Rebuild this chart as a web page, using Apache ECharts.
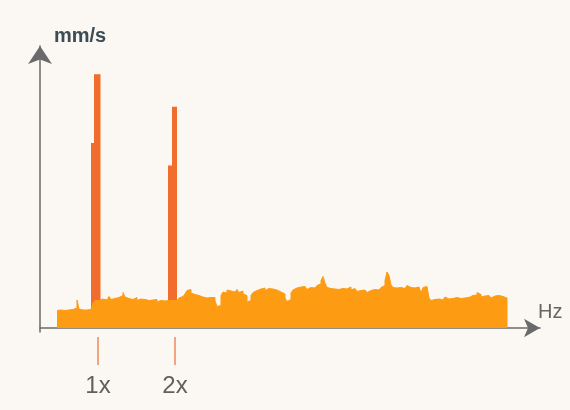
<!DOCTYPE html>
<html><head><meta charset="utf-8">
<script src="https://cdn.jsdelivr.net/npm/echarts@6/dist/echarts.min.js"></script>
<style>html,body{margin:0;padding:0;background:#fbf8f3}#c{width:570px;height:410px}</style>
</head><body><div id="c"></div>
<script>
const yAxisName = 'mm/s';
const xAxisName = 'Hz';
const harmonicFreqs = [29, 67.5];
const harmonicLabels = ['1x', '2x'];
// spectral peak lines: frequency (Hz) and amplitude (mm/s), step profile
const peakFreqs = [25.5, 27, 30.25, 64, 66, 68.5];
const peakAmps = [7.4, 10.15, 0, 6.5, 8.85, 0];
// broadband noise floor in 1 Hz bins starting at 8.5 Hz (mm/s)
const noiseStartHz = 8.5;
const noiseStepHz = 1;
const noiseAmps = [
  0.70,0.72,0.72,0.70,0.72,0.72,0.72,0.74,0.72,0.80,1.12,0.76,0.72,0.72,0.72,0.74,0.74,0.74,
  1.00,1.10,1.10,1.10,
  1.16,1.22,1.12,1.20,1.26,1.14,1.18,1.10,1.22,1.28,1.30,1.42,1.24,1.18,1.26,1.14,1.20,1.22,1.10,1.16,
  1.08,1.14,1.20,1.10,1.06,1.12,1.08,1.14,1.04,1.10,1.16,1.08,1.12,1.10,
  1.10,1.10,1.10,1.10,1.10,
  1.20,1.26,1.30,1.36,1.50,1.54,1.40,1.34,1.38,1.30,1.32,1.24,1.28,1.20,1.26,1.22,1.18,1.22,1.10,0.86,
  0.90,1.30,1.44,1.40,1.52,1.48,1.56,1.44,1.50,1.54,1.42,1.48,1.36,1.30,1.04,1.10,1.30,1.42,1.50,1.46,
  1.56,1.52,1.60,1.50,1.58,1.64,1.56,1.60,1.52,1.58,1.44,
  1.40,1.36,1.20,1.06,1.14,1.40,1.52,1.60,1.56,1.64,1.58,1.66,1.60,1.54,1.62,1.68,1.60,1.64,1.70,1.76,
  1.90,2.06,1.80,1.62,1.58,1.64,1.56,1.60,1.54,1.62,1.58,1.66,1.56,1.60,1.64,1.52,1.58,1.54,1.46,1.50,
  1.44,1.52,1.48,1.42,1.50,1.46,1.54,1.48,1.52,1.58,1.62,1.70,1.90,2.24,2.10,1.72,1.62,
  1.60,1.66,1.62,1.68,1.58,1.64,1.70,1.62,1.66,1.60,1.68,1.64,1.56,1.40,1.62,1.66,1.60,1.20,1.10,1.14,
  1.08,1.16,1.20,1.12,1.18,1.24,1.16,1.22,1.18,1.14,1.22,1.26,1.18,1.24,1.20,1.28,1.22,1.26,1.30,1.24,
  1.32,1.42,1.34,1.24,1.28,1.22,1.30,1.26,1.20,1.28,1.24,1.30,1.22,1.26,1.24,1.20
];

const noiseData = noiseAmps.map((v, i) => [noiseStartHz + i * noiseStepHz, v]);
noiseData.push([noiseStartHz + noiseAmps.length * noiseStepHz, 0]);
const peakData = peakFreqs.map((f, i) => [f, peakAmps[i]]);

const chart = echarts.init(document.getElementById('c'), null, {renderer: 'canvas'});
chart.setOption({
  backgroundColor: '#fbf8f3',
  animation: false,
  grid: {left: 40, right: 30, top: 46, bottom: 78},
  xAxis: [{
    type: 'value', min: 0, max: 250,
    name: xAxisName, nameLocation: 'end', nameGap: -2,
    nameTextStyle: {fontFamily: 'Liberation Sans', fontSize: 20, color: '#666666', align: 'left', verticalAlign: 'bottom', padding: [0, 0, 6, 0]},
    axisLine: {show: true, symbol: ['none', 'arrow'], symbolSize: [14, 16], lineStyle: {color: '#6a6a6a', width: 1.5}},
    axisTick: {show: false}, axisLabel: {show: false}, splitLine: {show: false}
  }, {
    type: 'value', min: 0, max: 250, position: 'bottom', offset: 5,
    axisLine: {show: false},
    axisTick: {show: true, customValues: harmonicFreqs, length: 28, lineStyle: {color: '#f08858', width: 1.5}},
    axisLabel: {show: true, customValues: harmonicFreqs, margin: 37,
      formatter: (v) => harmonicLabels[harmonicFreqs.indexOf(v)],
      fontFamily: 'Liberation Sans', fontSize: 24, color: '#606060'},
    splitLine: {show: false}
  }],
  yAxis: {
    type: 'value', min: -0.16, max: 11.28,
    name: yAxisName, nameLocation: 'end', nameGap: 0,
    nameTextStyle: {fontFamily: 'Liberation Sans', fontWeight: 'bold', fontSize: 20, color: '#3b4c55', align: 'left', verticalAlign: 'bottom', padding: [0, 0, 0, 14]},
    axisLine: {show: true, symbol: ['none', 'arrow'], symbolSize: [18, 18], lineStyle: {color: '#6a6a6a', width: 1.5}},
    axisTick: {show: false}, axisLabel: {show: false}, splitLine: {show: false}
  },
  series: [{
    name: 'peaks', type: 'line', step: 'end', xAxisIndex: 0,
    data: peakData, showSymbol: false,
    lineStyle: {opacity: 0},
    itemStyle: {color: '#f26d2d'},
    areaStyle: {color: '#f26d2d', opacity: 1}
  }, {
    name: 'noise', type: 'line', step: 'end', xAxisIndex: 0,
    data: noiseData, showSymbol: false,
    lineStyle: {width: 1, color: '#fd9b12'},
    itemStyle: {color: '#fd9b12'},
    areaStyle: {color: '#fd9b12', opacity: 1}
  }]
});
</script>
</body></html>
